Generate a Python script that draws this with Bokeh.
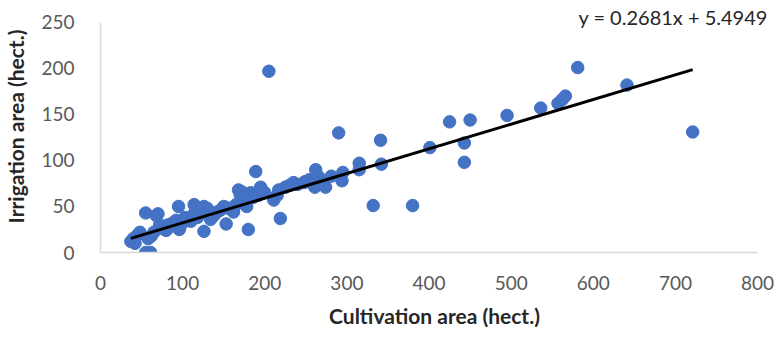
from bokeh.plotting import figure
from bokeh.models import Range1d, FixedTicker, Label
from bokeh.embed import file_html
from bokeh.resources import INLINE

cultivation = [37, 40, 45, 48, 42, 55, 55, 61, 58, 62, 65, 68, 70, 72, 75, 78, 80, 82, 85, 88,
               92, 95, 96, 98, 100, 103, 106, 110, 112, 114, 116, 118, 120, 124, 126, 126, 130,
               134, 138, 142, 146, 150, 152, 153, 156, 160, 162, 165, 168, 170, 172, 175, 178,
               180, 183, 186, 189, 192, 195, 200, 205, 211, 215, 217, 219, 225, 230, 235, 240,
               248, 249, 254, 258, 261, 262, 266, 270, 274, 281, 290, 294, 295, 315, 315, 332,
               341, 342, 380, 401, 425, 443, 443, 450, 495, 536, 557, 562, 566, 581, 641, 721]
irrigation = [12, 15, 19, 22, 10, 43, 0, 0, 15, 18, 22, 40, 42, 30, 27, 25, 24, 30, 28, 32,
              35, 50, 25, 30, 35, 38, 36, 34, 40, 52, 48, 38, 42, 45, 50, 23, 48,
              36, 40, 44, 46, 50, 49, 31, 48, 47, 44, 52, 68, 63, 66, 55, 50,
              25, 65, 60, 88, 62, 71, 65, 197, 57, 62, 68, 37, 71, 73, 76, 74,
              76, 77, 79, 75, 71, 90, 82, 76, 71, 83, 130, 78, 87, 97, 90, 51,
              122, 96, 51, 114, 142, 119, 98, 144, 149, 157, 162, 166, 170, 201, 182, 131]

slope = 0.2681
intercept = 5.4949
equation = "y = 0.2681x + 5.4949"
x_ticks = [0, 100, 200, 300, 400, 500, 600, 700, 800]
y_ticks = [0, 50, 100, 150, 200, 250]

FONT = "Lato"

# the frame is a little larger than the axes so that the equation fits above / right of them
p = figure(width=777, height=339, output_backend="svg", toolbar_location=None,
           x_range=Range1d(0, 813.3), y_range=Range1d(0, 273.9),
           min_border_left=96, min_border_right=9, min_border_top=0, min_border_bottom=87)
p.outline_line_color = None
p.xgrid.visible = False
p.ygrid.visible = False

p.scatter(cultivation, irrigation, size=12.5, color="#4472C4", line_color="#4472C4")

x0, x1 = min(cultivation), max(cultivation)
p.line([x0, x1], [slope * x0 + intercept, slope * x1 + intercept],
       line_color="black", line_width=3)

for ax in (p.xaxis[0], p.yaxis[0]):
    ax.axis_line_color = "#d9d9d9"
    ax.axis_line_width = 1.5
    ax.major_tick_line_color = None
    ax.minor_tick_line_color = None
    ax.major_label_text_font = FONT
    ax.major_label_text_font_size = "19px"
    ax.major_label_text_color = "#595959"
    ax.axis_label_text_font = FONT
    ax.axis_label_text_font_size = "21px"
    ax.axis_label_text_font_style = "bold"
    ax.axis_label_text_color = "#262626"

p.xaxis.bounds = (0, 800)
p.yaxis.bounds = (0, 250)
p.xaxis.ticker = FixedTicker(ticks=x_ticks)
p.yaxis.ticker = FixedTicker(ticks=y_ticks)
p.xaxis.major_label_standoff = 17
p.yaxis.major_label_standoff = 20
p.xaxis.axis_label = "Cultivation area (hect.)"
p.yaxis.axis_label = "Irrigation area (hect.)"
p.xaxis.axis_label_standoff = 10
p.yaxis.axis_label_standoff = 10

p.add_layout(Label(x=812.5, y=256.5, text=equation, text_font=FONT, text_font_size="20px",
                   text_color="#262626", text_align="right", text_baseline="middle"))

open("out.html", "w").write(file_html(p, INLINE))
